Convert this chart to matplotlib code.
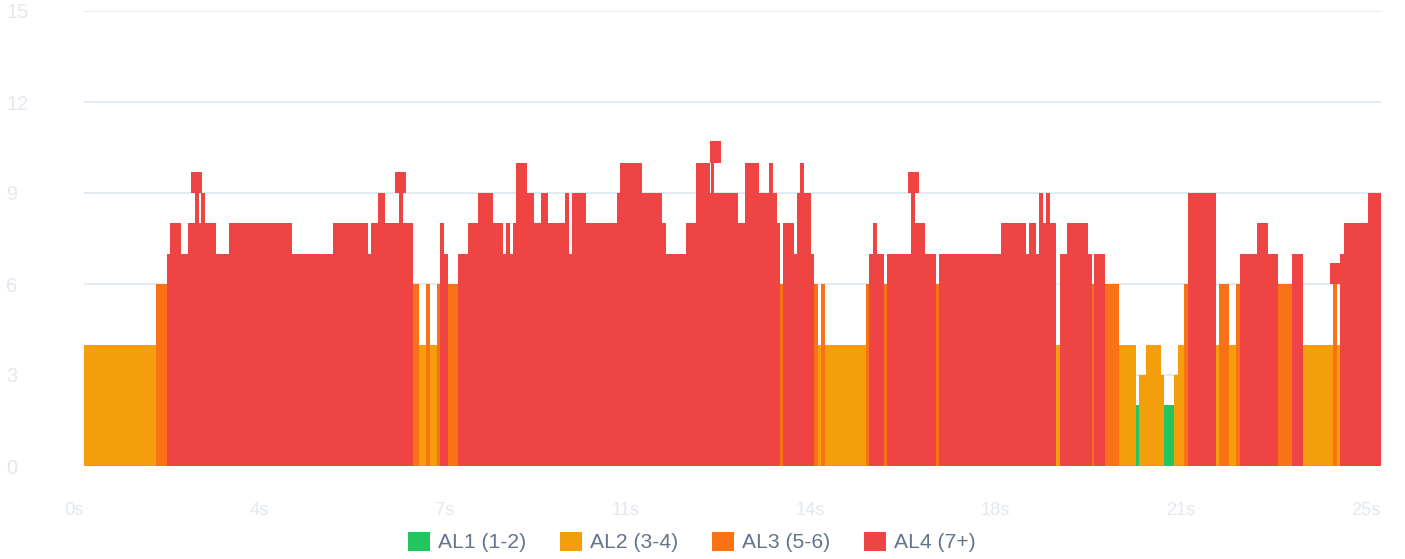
import numpy as np
import matplotlib
matplotlib.use('Agg')
import matplotlib.pyplot as plt
from matplotlib.patches import Patch

plt.rcParams['font.family'] = ['Liberation Sans', 'DejaVu Sans']

# Autonomy level timeline: each step starts at seg_start (s) and holds seg_level
seg_start = [0, 1.39, 1.60, 1.66, 1.87, 2.00, 2.14, 2.22, 2.26, 2.33, 2.54, 2.79, 4.01, 4.80,
             5.47, 5.53, 5.67, 5.80, 6.07, 6.15, 6.34, 6.46, 6.59, 6.67, 6.80, 6.86, 6.94, 7.02,
             7.21, 7.40, 7.59, 7.88, 8.08, 8.13, 8.21, 8.27, 8.33, 8.54, 8.67, 8.81, 8.94, 9.27,
             9.35, 9.41, 9.68, 10.27, 10.33, 10.76, 11.14, 11.22, 11.60, 11.80, 12.07, 12.09,
             12.14, 12.61, 12.74, 13.01, 13.20, 13.28, 13.36, 13.42, 13.47, 13.69, 13.74, 13.80,
             13.88, 14.01, 14.07, 14.15, 14.21, 14.28, 15.07, 15.13, 15.21, 15.29, 15.42, 15.48,
             15.94, 16.02, 16.21, 16.42, 16.48, 17.68, 18.16, 18.21, 18.35, 18.41, 18.48, 18.54,
             18.62, 18.74, 18.81, 18.95, 19.35, 19.43, 19.47, 19.68, 19.95, 20.28, 20.33, 20.47,
             20.76, 20.82, 21.01, 21.09, 21.20, 21.28, 21.82, 21.88, 22.07, 22.20, 22.28, 22.61,
             22.82, 23.01, 23.28, 23.50, 24.07, 24.15, 24.21, 24.29, 24.75]
seg_level = [4, 6, 7, 8, 7, 8, 9, 8, 9, 8, 7, 8, 7, 8,
             7, 8, 9, 8, 9, 8, 6, 4, 6, 4, 6, 8, 7, 6,
             7, 8, 9, 8, 7, 8, 7, 8, 10, 9, 8, 9, 8, 9,
             7, 9, 8, 9, 10, 9, 8, 7, 8, 10, 9, 10,
             9, 8, 10, 9, 10, 9, 8, 6, 8, 7, 9, 10,
             9, 7, 6, 4, 6, 4, 6, 7, 8, 7, 6, 7,
             9, 8, 7, 6, 7, 8, 7, 8, 7, 9, 8, 9,
             8, 4, 7, 8, 7, 6, 7, 6, 4, 2, 3, 4,
             3, 2, 3, 4, 6, 9, 4, 6, 4, 6, 7, 8,
             7, 6, 7, 4, 6, 4, 7, 8, 9]
t_end = 25.0

# short red blocks that sit above the steps
spike_start = [2.06, 5.99, 12.07, 15.88, 24.02]
spike_end = [2.27, 6.21, 12.28, 16.09, 24.21]
spike_base = [9, 9, 10, 9, 6]
spike_top = [9.7, 9.7, 10.7, 9.7, 6.7]

levels = ['AL1 (1-2)', 'AL2 (3-4)', 'AL3 (5-6)', 'AL4 (7+)']
level_colors = ['#22c55e', '#f59e0b', '#f97316', '#ef4444']

yticks = [0, 3, 6, 9, 12, 15]
xtick_labels = ['0s', '4s', '7s', '11s', '14s', '18s', '21s', '25s']


def level_color(v):
    if v <= 2:
        return level_colors[0]
    if v <= 4:
        return level_colors[1]
    if v <= 6:
        return level_colors[2]
    return level_colors[3]


starts = np.array(seg_start)
widths = np.diff(np.append(starts, t_end))
colors = [level_color(v) for v in seg_level]

fig = plt.figure(figsize=(14.05, 5.59), dpi=100)
ax = fig.add_axes([84 / 1405, 93 / 559, 1297 / 1405, 455 / 559])

ax.bar(starts, seg_level, width=widths, align='edge', color=colors,
       linewidth=0, antialiased=False, zorder=3)
ax.bar(spike_start, np.array(spike_top) - np.array(spike_base),
       width=np.array(spike_end) - np.array(spike_start), bottom=spike_base,
       align='edge', color=level_colors[3], linewidth=0, antialiased=False, zorder=3)

ax.set_xlim(0, t_end)
ax.set_ylim(0, 15)
ax.set_yticks(yticks)
ax.set_yticklabels([str(v) for v in yticks])
ax.set_xticks(np.linspace(0, t_end, len(xtick_labels)))
ax.set_xticklabels(xtick_labels)

ax.grid(axis='y', color='#e2e8f0', linewidth=1.3, zorder=0)
ax.grid(axis='x', visible=False)
for s in ax.spines.values():
    s.set_visible(False)

ax.tick_params(axis='both', length=0, colors='#e2e8f0')
ax.tick_params(axis='y', pad=56, labelsize=14.4)
ax.tick_params(axis='x', pad=26, labelsize=13.2)
for lbl in ax.get_yticklabels():
    lbl.set_ha('left')
for lbl in ax.get_xticklabels():
    lbl.set_ha('right')

handles = [Patch(facecolor=c, edgecolor='none', label=l) for c, l in zip(level_colors, levels)]
fig.legend(handles=handles, loc='center', bbox_to_anchor=(692 / 1405, 1 - 542 / 559),
           ncol=4, frameon=False, fontsize=15.2, labelcolor='#64748b',
           handlelength=1.05, handleheight=1.05, handletextpad=0.38, columnspacing=1.6,
           borderpad=0.2)

fig.savefig('out.png', dpi=100)
